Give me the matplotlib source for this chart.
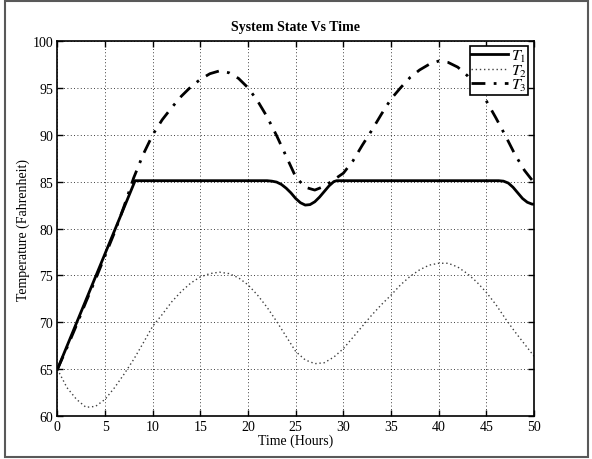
import numpy as np
import matplotlib
matplotlib.use("Agg")
import matplotlib.pyplot as plt
from matplotlib.patches import Rectangle

plt.rcParams.update({"font.family": "Liberation Serif", "font.size": 10,
                     "mathtext.fontset": "stix"})

# T1: ramp, hold at setpoint, two dips
t1_time = [0, 8.15, 22.0, 22.5, 23.0, 23.5, 24.0, 24.5, 25.0, 25.5, 26.0, 26.5,
           27.0, 27.5, 28.0, 28.5, 29.0, 29.3, 46.3, 46.8, 47.3, 47.8, 48.3,
           48.8, 49.3, 49.8, 50.0]
t1_temp = [65.0, 85.1, 85.1, 85.05, 84.95, 84.7, 84.3, 83.8, 83.2, 82.75, 82.5,
           82.55, 82.85, 83.35, 83.95, 84.55, 85.0, 85.1, 85.1, 85.05, 84.85,
           84.4, 83.8, 83.2, 82.8, 82.6, 82.6]

hours = list(range(51))
t2_temp = [65.0, 63.05, 61.8, 60.95, 61.05, 61.8, 63.05, 64.5, 66.05, 67.8,
           69.6, 70.85, 72.2, 73.3, 74.2, 74.85, 75.2, 75.35, 75.2, 74.75,
           74.0, 72.9, 71.6, 70.1, 68.5, 66.9, 66.0, 65.6, 65.7, 66.3,
           67.2, 68.4, 69.6, 70.8, 71.9, 72.9, 74.0, 74.9, 75.6, 76.1,
           76.3, 76.3, 75.9, 75.2, 74.3, 73.2, 71.9, 70.4, 69.0, 67.7, 66.4]
t3_temp = [65.0, 67.3, 69.7, 72.2, 74.6, 77.1, 79.6, 82.4, 85.4, 87.9,
           90.0, 91.6, 92.9, 94.1, 95.1, 95.9, 96.5, 96.8, 96.6, 96.0,
           95.0, 93.6, 91.9, 89.9, 87.7, 85.5, 84.4, 84.1, 84.5, 85.2,
           85.9, 87.2, 88.9, 90.5, 92.2, 93.8, 95.0, 96.1, 96.9, 97.5,
           97.85, 97.7, 97.2, 96.3, 95.0, 93.6, 91.8, 89.9, 87.9, 86.2, 84.9]

fig = plt.figure(figsize=(5.92, 4.6), dpi=100)
ax = fig.add_axes([0.097, 0.093, 0.805, 0.816])

ax.plot(t1_time, t1_temp, color="black", lw=2.0, label="$T_1$")
ax.plot(hours, t2_temp, color="0.25", lw=1.0, ls=(0, (1, 2)), label="$T_2$")
ax.plot(hours, t3_temp, color="black", lw=2.0, ls=(0, (5, 3, 1, 3)), label="$T_3$")

ax.set_xlim(0, 50)
ax.set_ylim(60, 100)
ax.set_xticks(range(0, 51, 5))
ax.set_yticks(range(60, 101, 5))
ax.grid(True, color="black", ls=(0, (1, 3)), lw=0.6)
ax.tick_params(direction="in", top=True, right=True, length=4, width=1,
               labelsize=10, pad=3)
for s in ax.spines.values():
    s.set_linewidth(1.2)

ax.set_title("System State Vs Time", fontweight="bold", fontsize=10, pad=8)
ax.set_xlabel("Time (Hours)", labelpad=0)
ax.set_ylabel("Temperature (Fahrenheit)", labelpad=2)

leg = ax.legend(loc="upper right", fancybox=False, framealpha=1, edgecolor="black",
                fontsize=11.5, borderpad=0.1, labelspacing=-0.1, handlelength=2.3,
                handletextpad=0.15, borderaxespad=0.35)
leg.get_frame().set_linewidth(1.2)

# outer frame around the whole figure
fig.patches.append(Rectangle((0.009, 0.004), 0.985, 0.992, transform=fig.transFigure,
                             fill=False, edgecolor="0.35", lw=1.5))

fig.savefig("out.png", dpi=100)
